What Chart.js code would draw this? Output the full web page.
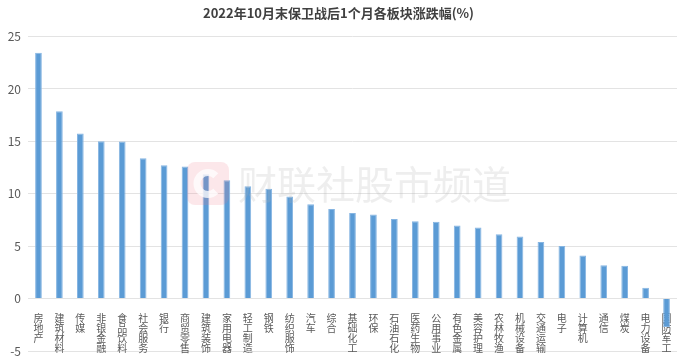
<!DOCTYPE html>
<html>
<head>
<meta charset="utf-8">
<script src="https://cdn.jsdelivr.net/npm/chart.js@4/dist/chart.umd.min.js"></script>
<style>
  html, body { margin: 0; padding: 0; background: #fff; }
  #wrap { width: 692px; height: 362px; }
</style>
</head>
<body>
<div id="wrap"><canvas id="sectorChart"></canvas></div>
<script>
// 板块名称
const categories = ['房地产', '建筑材料', '传媒', '非银金融', '食品饮料', '社会服务', '银行', '商贸零售',
    '建筑装饰', '家用电器', '轻工制造', '钢铁', '纺织服饰', '汽车', '综合', '基础化工', '环保',
    '石油石化', '医药生物', '公用事业', '有色金属', '美容护理', '农林牧渔', '机械设备', '交通运输',
    '电子', '计算机', '通信', '煤炭', '电力设备', '国防军工'];

// 涨跌幅 (%)
const changes = [23.47, 17.87, 15.75, 15.01, 14.98, 13.39, 12.73, 12.60, 11.87, 11.30, 10.72, 10.47,
    9.74, 9.01, 8.56, 8.17, 8.03, 7.60, 7.39, 7.33, 6.98, 6.79, 6.15, 5.93, 5.41, 5.03, 4.12,
    3.19, 3.13, 1.03, -2.7];

const yTicks = [-5, 0, 5, 10, 15, 20, 25];

const FONT = '"Noto Sans CJK SC", "Noto Sans", sans-serif';

// watermark drawn on top of the bars
const watermarkPlugin = {
    id: 'watermark',
    afterDraw: (chart) => {
        const ctx = chart.ctx;
        ctx.save();
        ctx.globalAlpha = 0.18;
        ctx.fillStyle = '#f07c8a';
        ctx.beginPath();
        ctx.roundRect(187, 162, 42, 43, 8);
        ctx.fill();
        ctx.globalAlpha = 0.75;
        ctx.strokeStyle = '#ffffff';
        ctx.lineWidth = 7;
        ctx.beginPath();
        ctx.arc(208, 183.5, 11, 0.25 * Math.PI, 1.75 * Math.PI);
        ctx.stroke();
        ctx.globalAlpha = 0.22;
        ctx.fillStyle = '#b0b0b0';
        ctx.font = '39px ' + FONT;
        ctx.textBaseline = 'middle';
        ctx.fillText('财联社股市频道', 238, 184);
        ctx.restore();
    }
};

const ctx = document.getElementById('sectorChart').getContext('2d');
const sectorChart = new Chart(ctx, {
    type: 'bar',
    data: {
        labels: categories,
        datasets: [{
            label: '涨跌幅',
            data: changes,
            backgroundColor: '#5B9BD5',
            borderColor: '#86B5E2',
            borderWidth: 1,
            barPercentage: 0.32,
            categoryPercentage: 1
        }]
    },
    options: {
        responsive: true,
        maintainAspectRatio: false,
        animation: false,
        layout: { padding: { left: 0, right: 15, bottom: 11, top: 0 } },
        plugins: {
            legend: { display: false },
            tooltip: { enabled: false },
            title: {
                display: true,
                text: '2022年10月末保卫战后1个月各板块涨跌幅(%)',
                color: '#404040',
                font: { family: FONT, size: 13, weight: 'bold' },
                padding: { top: 5, bottom: 16 }
            }
        },
        scales: {
            x: {
                position: { y: 0 },
                z: 1,
                grid: { display: false },
                border: { display: false },
                ticks: {
                    autoSkip: false,
                    maxRotation: 0,
                    minRotation: 0,
                    padding: 7,
                    color: '#595959',
                    font: { family: FONT, size: 10, lineHeight: 1 },
                    callback: function (value) {
                        return this.getLabelForValue(value).split('');
                    }
                }
            },
            y: {
                min: -5,
                max: 25,
                afterFit: (scale) => {
                    scale.width = 28;
                    scale.paddingBottom = 0;
                },
                afterBuildTicks: (scale) => {
                    scale.ticks = yTicks.map(v => ({ value: v }));
                },
                grid: { color: '#E3E3E3', lineWidth: 1, drawTicks: false },
                border: { display: false },
                ticks: {
                    padding: 7,
                    color: '#595959',
                    font: { family: FONT, size: 12 }
                }
            }
        }
    },
    plugins: [watermarkPlugin]
});
</script>
</body>
</html>
